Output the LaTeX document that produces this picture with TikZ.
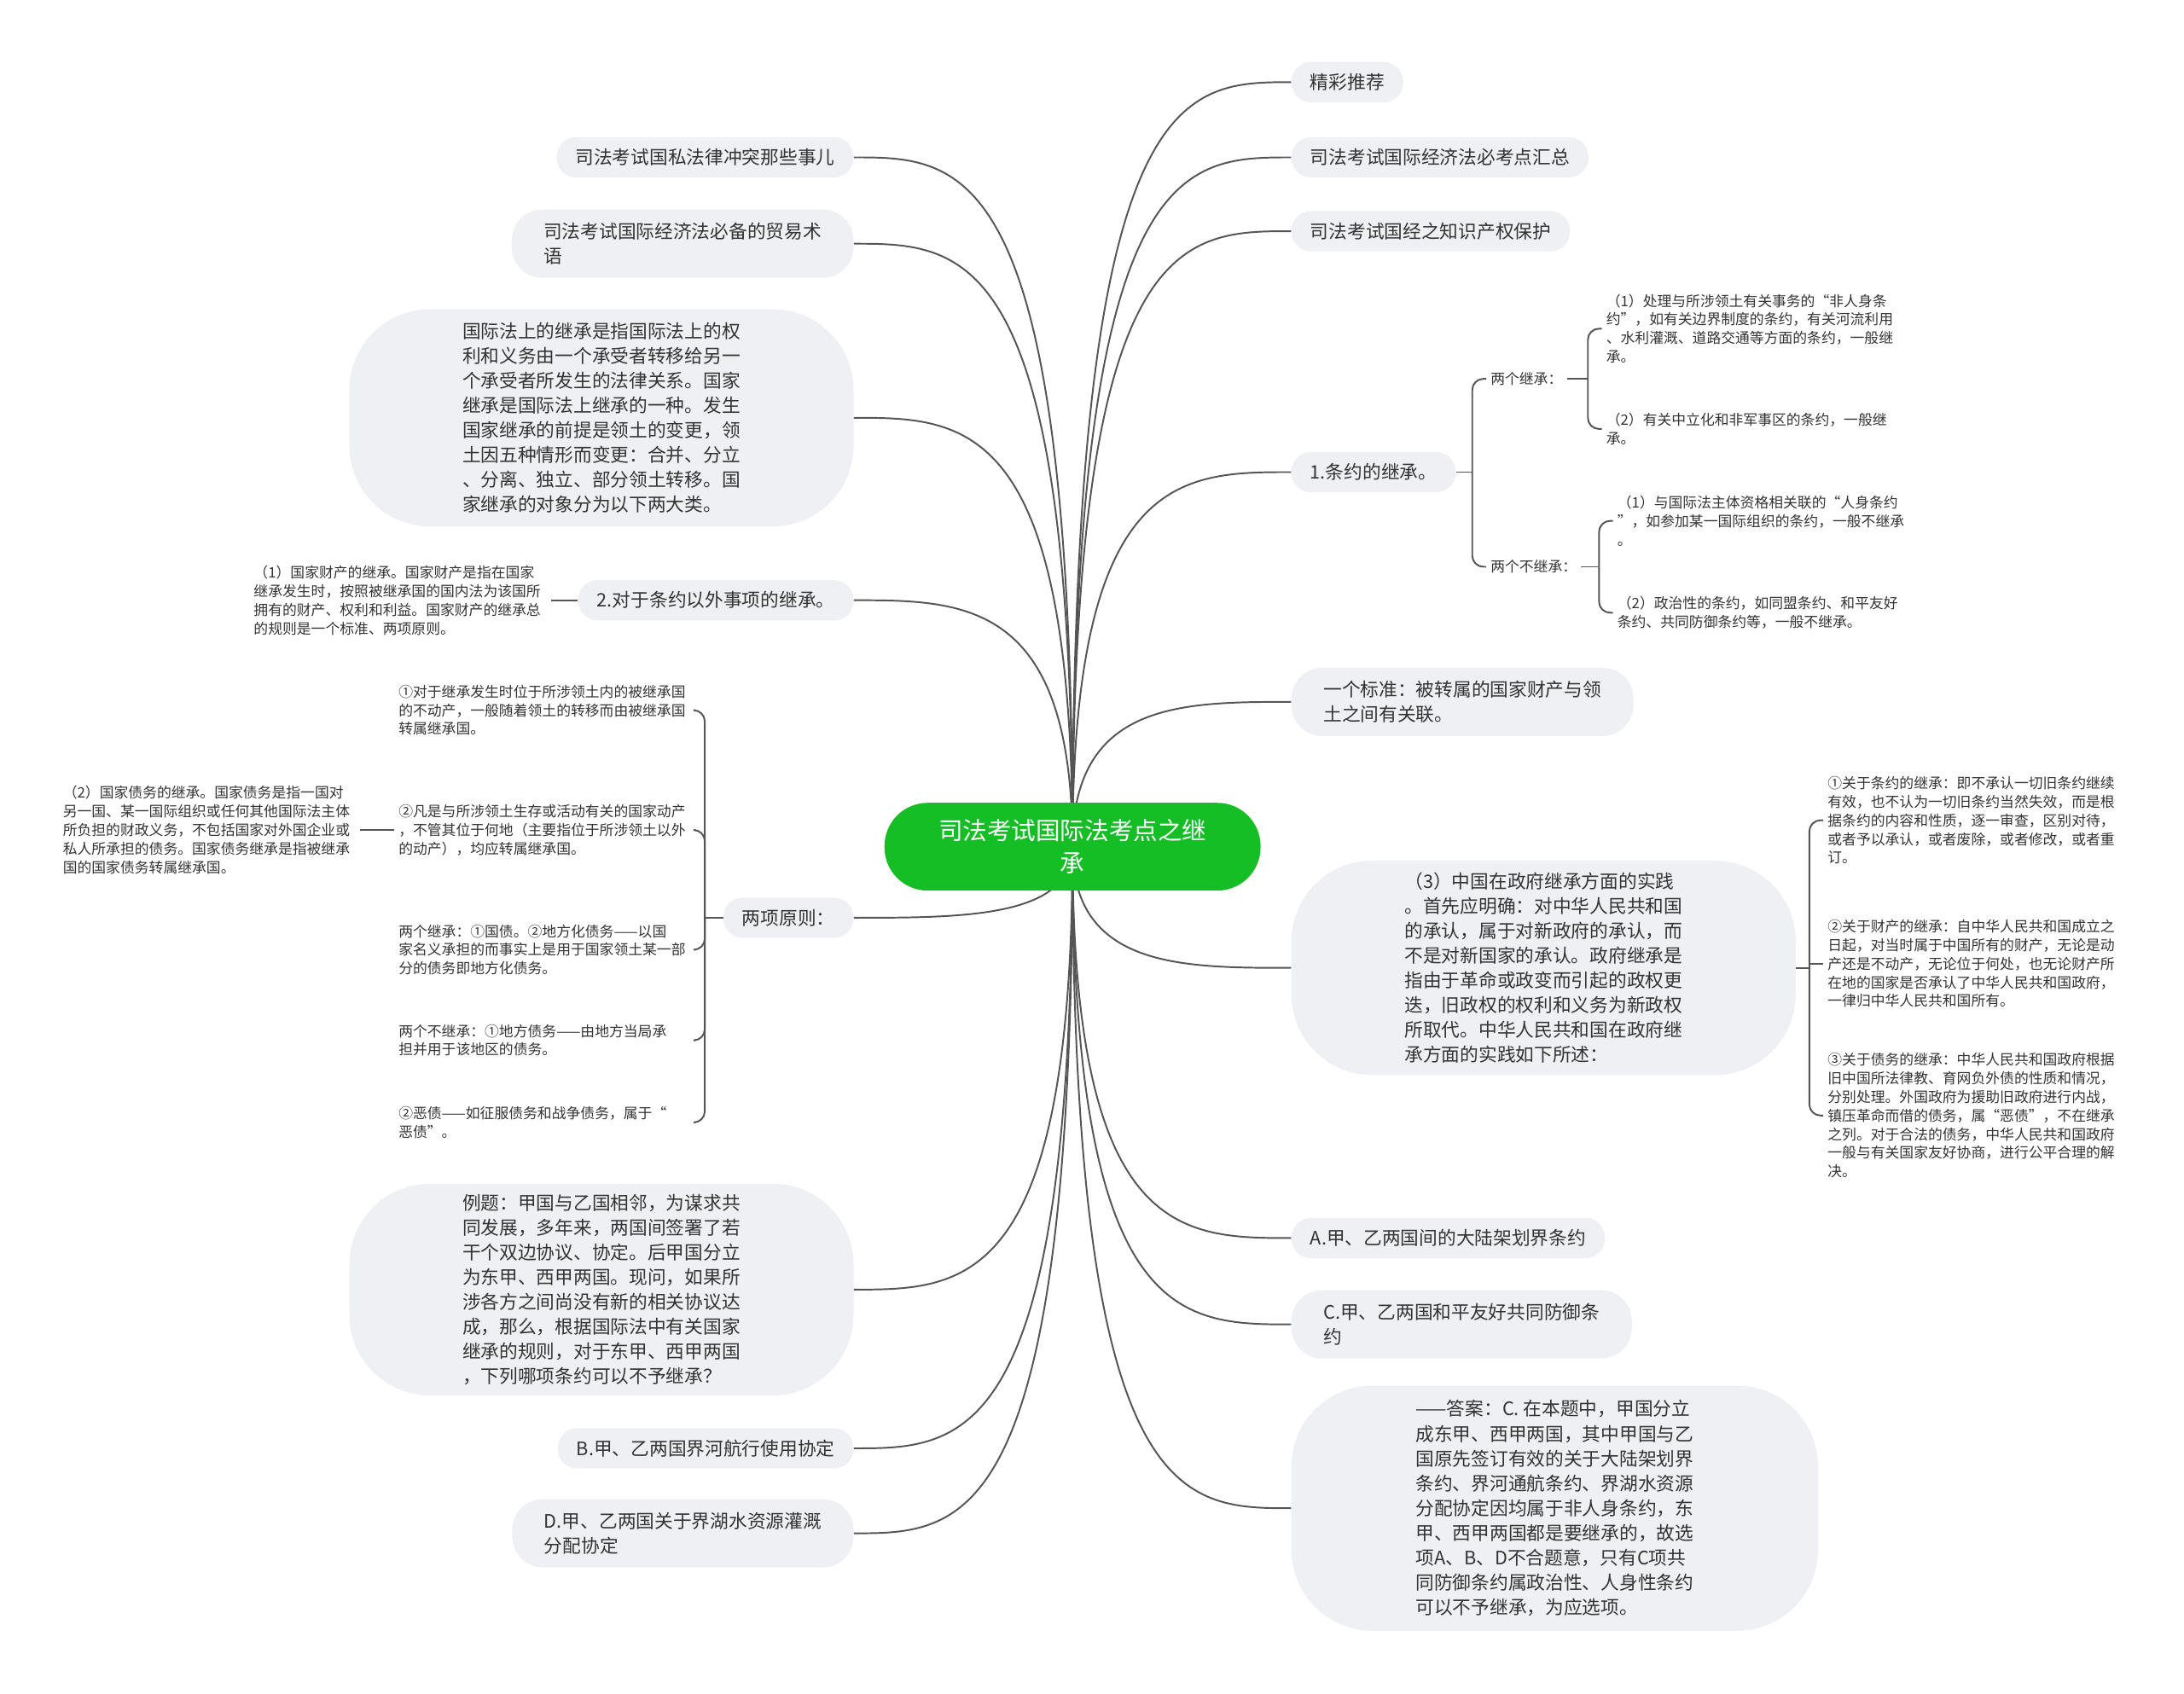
\documentclass[tikz,border=0pt]{standalone}
\usepackage{fontspec}
\newfontfamily\cjk{Noto Sans CJK SC}
\definecolor{hubgreen}{RGB}{21,190,37}
\definecolor{boxgray}{RGB}{238,240,243}
\definecolor{txt}{RGB}{51,51,51}
\definecolor{linec}{RGB}{85,85,85}
\begin{document}
\begin{tikzpicture}[x=1pt,y=-1pt,
  conn/.style={draw=linec, line width=1.2pt},
  pill/.style={fill=boxgray, rounded corners=14, inner xsep=13.5, inner ysep=0pt, minimum height=29, font=\cjk\fontsize{13.3}{17.8}\selectfont, text=txt, align=left},
  pilltwo/.style={pill, rounded corners=22, inner xsep=23, minimum height=49},
  bigbox/.style={fill=boxgray, rounded corners=58, inner sep=0pt, font=\cjk\fontsize{13.3}{17.8}\selectfont, text=txt, align=left},
  small/.style={font=\cjk\fontsize{10.3}{13.4}\selectfont, text=txt, align=left, inner xsep=3, inner ysep=0pt},
  smallw/.style={small, text width=210}
]
\useasboundingbox (0,0) rectangle (1568,1216);
\coordinate (hc) at (770,608);

% right side main nodes
\node[pill, anchor=west] (r1) at (927,59) {精彩推荐};
\node[pill, anchor=west] (r2) at (927,113) {司法考试国际经济法必考点汇总};
\node[pill, anchor=west] (r3) at (927,166) {司法考试国经之知识产权保护};
\node[pill, anchor=west] (r4) at (927,339) {1.条约的继承。};
\node[pilltwo, anchor=west] (r5) at (927,504) {一个标准：被转属的国家财产与领\\土之间有关联。};
\node[bigbox, anchor=west, minimum width=362, minimum height=154] (r6) at (927,695) {（3）中国在政府继承方面的实践\\。首先应明确：对中华人民共和国\\的承认，属于对新政府的承认，而\\不是对新国家的承认。政府继承是\\指由于革命或政变而引起的政权更\\迭，旧政权的权利和义务为新政权\\所取代。中华人民共和国在政府继\\承方面的实践如下所述：};
\node[pill, anchor=west] (r7) at (927,889) {A.甲、乙两国间的大陆架划界条约};
\node[pilltwo, anchor=west] (r8) at (927,951) {C.甲、乙两国和平友好共同防御条\\约};
\node[bigbox, anchor=west, minimum width=378, minimum height=176] (r9) at (927,1083) {——答案：C. 在本题中，甲国分立\\成东甲、西甲两国，其中甲国与乙\\国原先签订有效的关于大陆架划界\\条约、界河通航条约、界湖水资源\\分配协定因均属于非人身条约，东\\甲、西甲两国都是要继承的，故选\\项A、B、D不合题意，只有C项共\\同防御条约属政治性、人身性条约\\可以不予继承，为应选项。};

% left side main nodes
\node[pill, anchor=east] (l1) at (613,113) {司法考试国私法律冲突那些事儿};
\node[pilltwo, anchor=east] (l2) at (613,175) {司法考试国际经济法必备的贸易术\\语};
\node[bigbox, anchor=east, minimum width=362, minimum height=156] (l3) at (613,300) {国际法上的继承是指国际法上的权\\利和义务由一个承受者转移给另一\\个承受者所发生的法律关系。国家\\继承是国际法上继承的一种。发生\\国家继承的前提是领土的变更，领\\土因五种情形而变更：合并、分立\\、分离、独立、部分领土转移。国\\家继承的对象分为以下两大类。};
\node[pill, anchor=east] (l4) at (613,431) {2.对于条约以外事项的继承。};
\node[pill, anchor=east] (l5) at (613,659) {两项原则：};
\node[bigbox, anchor=east, minimum width=362, minimum height=152] (l6) at (613,926) {例题：甲国与乙国相邻，为谋求共\\同发展，多年来，两国间签署了若\\干个双边协议、协定。后甲国分立\\为东甲、西甲两国。现问，如果所\\涉各方之间尚没有新的相关协议达\\成，那么，根据国际法中有关国家\\继承的规则，对于东甲、西甲两国\\，下列哪项条约可以不予继承？};
\node[pill, anchor=east] (l7) at (613,1040) {B.甲、乙两国界河航行使用协定};
\node[pilltwo, anchor=east] (l8) at (613,1101) {D.甲、乙两国关于界湖水资源灌溉\\分配协定};

% children of 1.条约的继承
\node[small, anchor=west] (k1) at (1067,272) {两个继承：};
\node[small, anchor=west] (k2) at (1067,407) {两个不继承：};
\node[small, anchor=west] (k11) at (1150,236) {（1）处理与所涉领土有关事务的“非人身条\\约”，如有关边界制度的条约，有关河流利用\\、水利灌溉、道路交通等方面的条约，一般继\\承。};
\node[small, anchor=west] (k12) at (1150,308) {（2）有关中立化和非军事区的条约，一般继\\承。};
\node[small, anchor=west] (k21) at (1158,374) {（1）与国际法主体资格相关联的“人身条约\\”，如参加某一国际组织的条约，一般不继承\\。};
\node[small, anchor=west] (k22) at (1158,440) {（2）政治性的条约，如同盟条约、和平友好\\条约、共同防御条约等，一般不继承。};

% children of (3)
\node[small, anchor=west] (c1) at (1309,589) {①关于条约的继承：即不承认一切旧条约继续\\有效，也不认为一切旧条约当然失效，而是根\\据条约的内容和性质，逐一审查，区别对待，\\或者予以承认，或者废除，或者修改，或者重\\订。};
\node[small, anchor=west] (c2) at (1309,692) {②关于财产的继承：自中华人民共和国成立之\\日起，对当时属于中国所有的财产，无论是动\\产还是不动产，无论位于何处，也无论财产所\\在地的国家是否承认了中华人民共和国政府，\\一律归中华人民共和国所有。};
\node[small, anchor=west] (c3) at (1309,801) {③关于债务的继承：中华人民共和国政府根据\\旧中国所法律教、育网负外债的性质和情况，\\分别处理。外国政府为援助旧政府进行内战，\\镇压革命而借的债务，属“恶债”，不在继承\\之列。对于合法的债务，中华人民共和国政府\\一般与有关国家友好协商，进行公平合理的解\\决。};

% child of 2.对于条约以外事项的继承
\node[smallw, anchor=west] (m1) at (179,431) {（1）国家财产的继承。国家财产是指在国家\\继承发生时，按照被继承国的国内法为该国所\\拥有的财产、权利和利益。国家财产的继承总\\的规则是一个标准、两项原则。};

% children of 两项原则
\node[smallw, anchor=west] (p1) at (283,510) {①对于继承发生时位于所涉领土内的被继承国\\的不动产，一般随着领土的转移而由被继承国\\转属继承国。};
\node[smallw, anchor=west] (p2) at (283,596) {②凡是与所涉领土生存或活动有关的国家动产\\，不管其位于何地（主要指位于所涉领土以外\\的动产），均应转属继承国。};
\node[smallw, anchor=west] (p3) at (283,682) {两个继承：①国债。②地方化债务——以国\\家名义承担的而事实上是用于国家领土某一部\\分的债务即地方化债务。};
\node[smallw, anchor=west] (p4) at (283,747) {两个不继承：①地方债务——由地方当局承\\担并用于该地区的债务。};
\node[smallw, anchor=west] (p5) at (283,806) {②恶债——如征服债务和战争债务，属于“\\恶债”。};
\node[smallw, anchor=west] (p21) at (42,596) {（2）国家债务的继承。国家债务是指一国对\\另一国、某一国际组织或任何其他国际法主体\\所负担的财政义务，不包括国家对外国企业或\\私人所承担的债务。国家债务继承是指被继承\\国的国家债务转属继承国。};

% main connectors (right)
\draw[conn] (hc) .. controls (770,59) and (848,59) .. (r1.west);
\draw[conn] (hc) .. controls (770,113) and (848,113) .. (r2.west);
\draw[conn] (hc) .. controls (770,166) and (848,166) .. (r3.west);
\draw[conn] (hc) .. controls (770,339) and (848,339) .. (r4.west);
\draw[conn] (hc) .. controls (770,504) and (848,504) .. (r5.west);
\draw[conn] (hc) .. controls (770,695) and (848,695) .. (r6.west);
\draw[conn] (hc) .. controls (770,889) and (848,889) .. (r7.west);
\draw[conn] (hc) .. controls (770,951) and (848,951) .. (r8.west);
\draw[conn] (hc) .. controls (770,1083) and (848,1083) .. (r9.west);
% main connectors (left)
\draw[conn] (hc) .. controls (770,113) and (692,113) .. (l1.east);
\draw[conn] (hc) .. controls (770,175) and (692,175) .. (l2.east);
\draw[conn] (hc) .. controls (770,300) and (692,300) .. (l3.east);
\draw[conn] (hc) .. controls (770,431) and (692,431) .. (l4.east);
\draw[conn] (hc) .. controls (770,659) and (692,659) .. (l5.east);
\draw[conn] (hc) .. controls (770,926) and (692,926) .. (l6.east);
\draw[conn] (hc) .. controls (770,1040) and (692,1040) .. (l7.east);
\draw[conn] (hc) .. controls (770,1101) and (692,1101) .. (l8.east);

% braces
\coordinate (b4) at (1057,339);
\draw[conn] (r4.east) -- (b4);
\draw[conn, rounded corners=8] (b4) |- (k1.west);
\draw[conn, rounded corners=8] (b4) |- (k2.west);
\coordinate (b41) at (1140,272);
\draw[conn] (k1.east) -- (b41);
\draw[conn, rounded corners=8] (b41) |- (k11.west);
\draw[conn, rounded corners=8] (b41) |- (k12.west);
\coordinate (b42) at (1148,407);
\draw[conn] (k2.east) -- (b42);
\draw[conn, rounded corners=8] (b42) |- (k21.west);
\draw[conn, rounded corners=8] (b42) |- (k22.west);

\coordinate (b6) at (1299,695);
\draw[conn] (r6.east) -- (b6);
\draw[conn, rounded corners=8] (b6) |- (c1.west);
\draw[conn] (b6) -- (1299,692) -- (c2.west);
\draw[conn, rounded corners=8] (b6) |- (c3.west);

\draw[conn] (l4.west) -- (m1.east);

\coordinate (b5) at (506,659);
\draw[conn] (l5.west) -- (b5);
\draw[conn, rounded corners=8] (b5) |- (p1.east);
\draw[conn, rounded corners=8] (b5) |- (p2.east);
\draw[conn, rounded corners=8] (b5) |- (p3.east);
\draw[conn, rounded corners=8] (b5) |- (p4.east);
\draw[conn, rounded corners=8] (b5) |- (p5.east);
\draw[conn] (p2.west) -- (p21.east);

% center
\node[fill=hubgreen, rounded corners=31, minimum width=270, minimum height=63, inner sep=0pt, text=white, font=\cjk\fontsize{17.5}{23}\selectfont, align=center] (hub) at (hc) {司法考试国际法考点之继\\承};
\end{tikzpicture}
\end{document}
